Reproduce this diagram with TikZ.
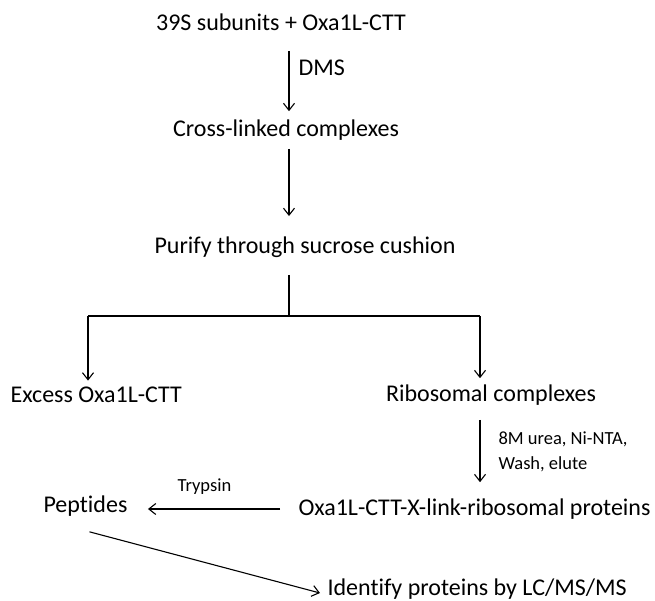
\documentclass[tikz,border=0pt]{standalone}
\usepackage{fontspec}
\setmainfont{Carlito}[Ligatures=NoCommon]
\usetikzlibrary{arrows.meta}

\begin{document}
\begin{tikzpicture}[x=1pt, y=-1pt, line width=1.1pt,
    stage/.style={inner sep=0pt, font=\fontsize{24}{28}\selectfont},
    note/.style={inner sep=0pt, font=\fontsize{18.5}{25}\selectfont, align=left},
    flow/.style={-{Straight Barb[length=7pt, width=11pt]}}]
  \useasboundingbox (0,0) rectangle (655,600);

  % --- main column: cross-linking and purification ---
  \coordinate (spine) at (289,0);
  \node[stage] (mix)     at (281,22)  {39S subunits + Oxa1L-CTT};
  \node[stage] (xlink)   at (286,130) {Cross-linked complexes};
  \node[stage] (cushion) at (305,247) {Purify through sucrose cushion};

  \draw[flow, shorten <=20pt, shorten >=8pt] (mix.south -| spine) -- (xlink.north -| spine)
    node[stage, pos=0.42, right=9pt] (dms) {DMS};
  \draw[flow, shorten <=8pt, shorten >=20pt] (xlink.south -| spine) -- (cushion.north -| spine);

  % --- split into the two fractions ---
  \coordinate (fork)  at (289,316);
  \coordinate (forkL) at (88,316);
  \coordinate (forkR) at (480,316);
  \node[stage, anchor=west] (excess) at (10,395)  {Excess Oxa1L-CTT};
  \node[stage]              (ribo)   at (491,395) {Ribosomal complexes};

  \draw[shorten <=17pt] (cushion.south -| spine) -- (fork);
  \draw (forkL) -- (forkR);
  \draw[flow, shorten >=6pt] (forkL) -- (forkL |- excess.north);
  \draw[flow, shorten >=6pt] (forkR) -- (forkR |- ribo.north);

  % --- pull-down, digestion, identification ---
  \node[stage, anchor=west] (oxa)   at (298,509) {Oxa1L-CTT-X-link-ribosomal proteins};
  \node[stage, anchor=west] (pep)   at (43,506)  {Peptides};
  \node[stage, anchor=west] (ident) at (327,589) {Identify proteins by LC/MS/MS};

  \draw[flow, shorten <=14pt, shorten >=16pt] (ribo.south -| forkR) -- (oxa.north -| forkR)
    node[note, midway, right=18pt] (wash) {8M urea, Ni-NTA,\\Wash, elute};
  \draw[flow, shorten <=18pt, shorten >=20pt] (oxa.west) -- (oxa.west -| pep.east)
    node[note, pos=0.55, above=14pt] (trypsin) {Trypsin};
  \draw[flow] ([shift={(4,15)}]pep.south) -- ([shift={(-7,4)}]ident.west);
\end{tikzpicture}
\end{document}
